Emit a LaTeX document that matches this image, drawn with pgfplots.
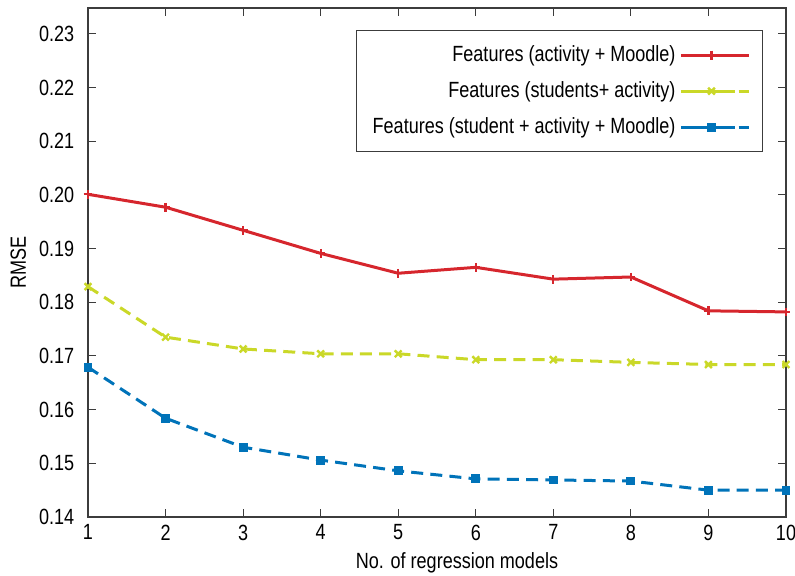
\documentclass[border=0pt]{standalone}
\usepackage{fontspec}
\setmainfont[FakeStretch=0.82]{Liberation Sans}
\usepackage{pgfplots}
\pgfplotsset{compat=1.18}
\definecolor{cred}{RGB}{214,38,45}
\definecolor{cyel}{RGB}{202,216,40}
\definecolor{cblu}{RGB}{0,115,185}
\definecolor{axgray}{RGB}{60,60,60}
\begin{document}
\fontsize{11}{13.2}\selectfont
\begin{tikzpicture}
\begin{axis}[
  name=ax,
  scale only axis,
  width=349pt, height=254.5pt,
  xmin=1, xmax=10, ymin=0.14, ymax=0.2348,
  xtick={1,...,10},
  ytick={0.14,0.15,...,0.23},
  /pgf/number format/assume math mode=true,
  tick align=inside,
  major tick length=4pt,
  tick style={axgray, line width=0.5pt},
  axis line style={axgray, line width=0.6pt},
  ticklabel style={font=\fontsize{11}{13.2}\selectfont},
  yticklabel style={xshift=-3pt, /pgf/number format/.cd,fixed,fixed zerofill,precision=2},
  label style={font=\fontsize{11}{13.2}\selectfont},
  xlabel={No. of regression models},
  ylabel={RMSE},
  xlabel style={yshift=1.5pt, xshift=10pt},
  ylabel style={yshift=-1pt},
  legend style={at={(rel axis cs:1,1)}, anchor=north east, xshift=-11.5pt, yshift=-11pt,
    draw=axgray, line width=0.5pt, font=\fontsize{11}{13.2}\selectfont,
    row sep=4.4pt, inner xsep=6pt, inner ysep=5.5pt},
  legend cell align=right,
  legend plot pos=right,
  legend image code/.code={\path (0pt,0pt) -- (34pt,0pt); \draw[#1] (3.5pt,0pt) -- (27pt,0pt); \draw[#1, solid] plot coordinates {(15.25pt,0pt)};},
]
\addplot[cred, line width=1.5pt, mark=+, mark size=2.2pt, mark options={solid, line width=1.1pt}] coordinates {
(1,0.2001)(2,0.1977)(3,0.1934)(4,0.1891)(5,0.1854)(6,0.1865)(7,0.1843)(8,0.1847)(9,0.1784)(10,0.1782)};
\addlegendentry{Features (activity + Moodle)}
\addplot[cyel, line width=1.5pt, dash pattern=on 6pt off 3.6pt, mark=x, mark size=2.4pt, mark options={solid, line width=1.2pt}] coordinates {
(1,0.1829)(2,0.1735)(3,0.1713)(4,0.1704)(5,0.1704)(6,0.1693)(7,0.1693)(8,0.1688)(9,0.1684)(10,0.1684)};
\addlegendentry{Features (students+ activity)}
\addplot[cblu, line width=1.5pt, dash pattern=on 6pt off 3.6pt, mark=square*, mark size=1.9pt, mark options={solid, line width=0.6pt}] coordinates {
(1,0.1679)(2,0.1584)(3,0.1530)(4,0.1506)(5,0.1486)(6,0.1471)(7,0.1469)(8,0.1467)(9,0.1450)(10,0.1450)};
\addlegendentry{Features (student + activity + Moodle)}
\end{axis}
\pgfresetboundingbox
\useasboundingbox ([xshift=-44pt,yshift=-29pt]ax.south west) rectangle ([xshift=4.5pt,yshift=4pt]ax.north east);
\end{tikzpicture}
\end{document}
